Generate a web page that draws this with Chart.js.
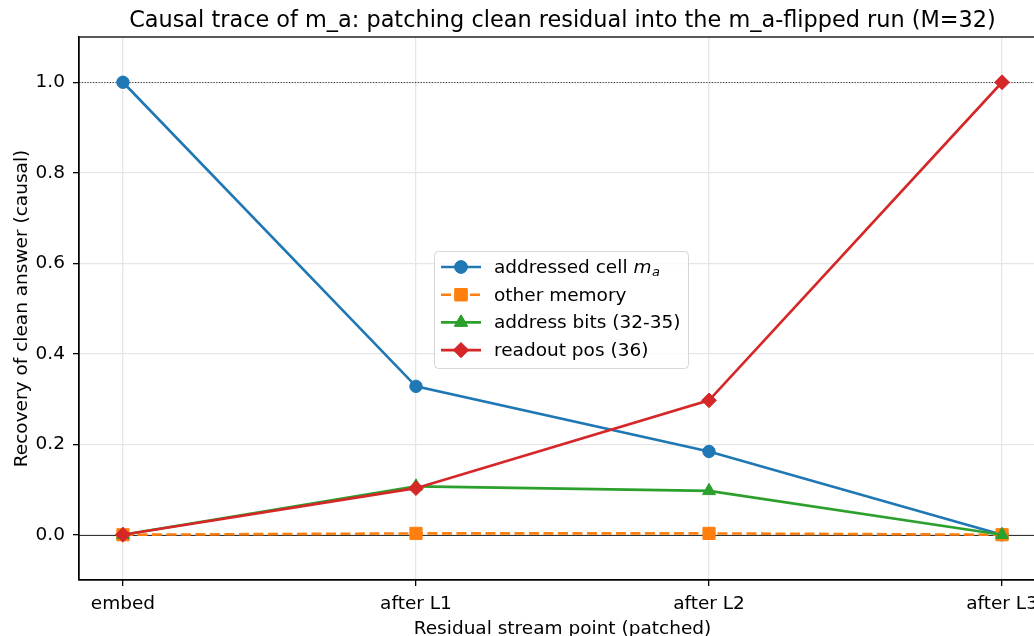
<!DOCTYPE html>
<html>
<head>
<meta charset="utf-8">
<script src="https://cdn.jsdelivr.net/npm/chart.js@4/dist/chart.umd.min.js"></script>
<style>
  html, body { margin: 0; padding: 0; background: #fff; overflow: hidden; }
  #wrap { position: absolute; left: 0; top: 0; }
</style>
</head>
<body>
<div id="wrap"><canvas id="c" width="1070" height="636"></canvas></div>
<script>
// patch points along the residual stream
var categories = ['embed', 'after L1', 'after L2', 'after L3'];
var yTicks = [0, 0.2, 0.4, 0.6, 0.8, 1.0];

// recovery of clean answer per patched component
var addressedCell = [1.0, 0.328, 0.184, 0.0];
var otherMemory   = [0.0, 0.003, 0.003, 0.0];
var addressBits   = [0.0, 0.107, 0.097, 0.0];
var readoutPos    = [0.0, 0.103, 0.297, 1.0];

var FONT = "'DejaVu Sans', sans-serif";
var FS = 18.5;
var BLUE = '#1f77b4', ORANGE = '#ff7f0e', GREEN = '#2ca02c', RED = '#d62728';

function pts(arr) {
  return arr.map(function (v, i) { return { x: i, y: v }; });
}

var series = [
  { label: 'addressed cell', sub: true, data: addressedCell, color: BLUE, style: 'circle', r: 6.2, dash: [] },
  { label: 'other memory', data: otherMemory, color: ORANGE, style: 'rect', r: 8.6, dash: [10, 4.5] },
  { label: 'address bits (32-35)', data: addressBits, color: GREEN, style: 'triangle', r: 7.5, dash: [] },
  { label: 'readout pos (36)', data: readoutPos, color: RED, style: 'rectRot', r: 7.4, dash: [] }
];

var datasets = series.map(function (s, i) {
  return {
    label: s.label,
    data: pts(s.data),
    borderColor: s.color,
    backgroundColor: s.color,
    borderWidth: 2.6,
    borderDash: s.dash,
    pointStyle: s.style,
    pointRadius: s.r,
    pointHoverRadius: s.r,
    pointBorderWidth: 1,
    pointBorderColor: s.color,
    pointBackgroundColor: s.color,
    tension: 0,
    fill: false,
    order: series.length - i
  };
});

// axes frame, reference lines, titles and the legend box
var decor = {
  id: 'decor',
  beforeDatasetsDraw: function (chart) {
    var ctx = chart.ctx, a = chart.chartArea, y = chart.scales.y;
    ctx.save();
    ctx.beginPath(); ctx.rect(a.left, a.top, a.right - a.left, a.bottom - a.top); ctx.clip();
    // dotted line at full recovery
    ctx.strokeStyle = '#333'; ctx.lineWidth = 1; ctx.setLineDash([1.2, 1.6]);
    var y1 = Math.round(y.getPixelForValue(1)) + 0.5;
    ctx.beginPath(); ctx.moveTo(a.left, y1); ctx.lineTo(a.right, y1); ctx.stroke();
    // solid baseline at zero
    ctx.setLineDash([]); ctx.strokeStyle = '#333'; ctx.lineWidth = 1.1;
    var y0 = Math.round(y.getPixelForValue(0)) + 0.5;
    ctx.beginPath(); ctx.moveTo(a.left, y0); ctx.lineTo(a.right, y0); ctx.stroke();
    ctx.restore();
  },
  afterDraw: function (chart) {
    var ctx = chart.ctx, a = chart.chartArea;
    ctx.save();
    // spines
    ctx.strokeStyle = '#000'; ctx.lineWidth = 1.3;
    ctx.strokeRect(a.left, a.top, a.right - a.left, a.bottom - a.top);

    var cx = (a.left + a.right) / 2;
    ctx.fillStyle = '#000';
    ctx.textAlign = 'center'; ctx.textBaseline = 'alphabetic';
    ctx.font = '22.4px ' + FONT;
    ctx.fillText('Causal trace of m_a: patching clean residual into the m_a-flipped run (M=32)', cx, 27);
    ctx.font = FS + 'px ' + FONT;
    ctx.fillText('Residual stream point (patched)', cx, 634);
    ctx.save();
    ctx.translate(27, (a.top + a.bottom) / 2);
    ctx.rotate(-Math.PI / 2);
    ctx.fillText('Recovery of clean answer (causal)', 0, 0);
    ctx.restore();

    // legend
    var lx = 434, ly = 251, lw = 254, lh = 117;
    ctx.beginPath();
    if (ctx.roundRect) ctx.roundRect(lx + 0.5, ly + 0.5, lw, lh, 4); else ctx.rect(lx + 0.5, ly + 0.5, lw, lh);
    ctx.fillStyle = 'rgba(255,255,255,0.8)'; ctx.fill();
    ctx.strokeStyle = '#d6d6d6'; ctx.lineWidth = 1; ctx.stroke();
    ctx.textAlign = 'left'; ctx.textBaseline = 'middle';
    series.forEach(function (s, i) {
      var ry = 267 + i * 27.7;
      ctx.strokeStyle = s.color; ctx.lineWidth = 2.6; ctx.setLineDash(s.dash);
      ctx.beginPath(); ctx.moveTo(441, ry); ctx.lineTo(481, ry); ctx.stroke();
      ctx.setLineDash([]);
      ctx.fillStyle = s.color; ctx.lineWidth = 1;
      Chart.helpers.drawPoint(ctx, { pointStyle: s.style, radius: s.r, borderWidth: 1 }, 461, ry);
      ctx.fill(); ctx.stroke();
      ctx.fillStyle = '#000';
      ctx.font = FS + 'px ' + FONT;
      ctx.fillText(s.label, 494, ry + 1);
      if (s.sub) {
        var w = ctx.measureText(s.label + ' ').width;
        ctx.font = 'italic ' + FS + 'px ' + FONT;
        ctx.fillText('m', 494 + w, ry + 1);
        var mw = ctx.measureText('m').width;
        ctx.font = 'italic 13px ' + FONT;
        ctx.fillText('a', 494 + w + mw + 0.5, ry + 6);
      }
    });
    ctx.restore();
  }
};

new Chart(document.getElementById('c'), {
  type: 'line',
  data: { datasets: datasets },
  plugins: [decor],
  options: {
    responsive: false,
    animation: false,
    events: [],
    layout: { padding: { top: 37, right: 24, left: 0, bottom: 0 } },
    plugins: { legend: { display: false }, tooltip: { enabled: false }, title: { display: false } },
    scales: {
      x: {
        type: 'linear',
        min: -0.15, max: 3.15,
        afterBuildTicks: function (s) { s.ticks = categories.map(function (c, i) { return { value: i }; }); },
        afterFit: function (s) { s.height = 56; },
        ticks: {
          color: '#000', font: { family: FONT, size: FS }, padding: 7, maxRotation: 0, autoSkip: false,
          callback: function (v) { return categories[v]; }
        },
        grid: { color: '#e6e6e6', lineWidth: 1.3, tickColor: '#000', tickLength: 6, tickWidth: 1.3 },
        border: { display: true, color: '#000', width: 1.3 }
      },
      y: {
        type: 'linear',
        min: -0.1, max: 1.1,
        afterBuildTicks: function (s) { s.ticks = yTicks.map(function (v) { return { value: v }; }); },
        afterFit: function (s) { s.width = 79; },
        ticks: {
          color: '#000', font: { family: FONT, size: FS }, padding: 8,
          callback: function (v) { return v.toFixed(1); }
        },
        grid: { color: '#e6e6e6', lineWidth: 1.3, tickColor: '#000', tickLength: 6, tickWidth: 1.3 },
        border: { display: true, color: '#000', width: 1.3 }
      }
    }
  }
});
</script>
</body>
</html>
